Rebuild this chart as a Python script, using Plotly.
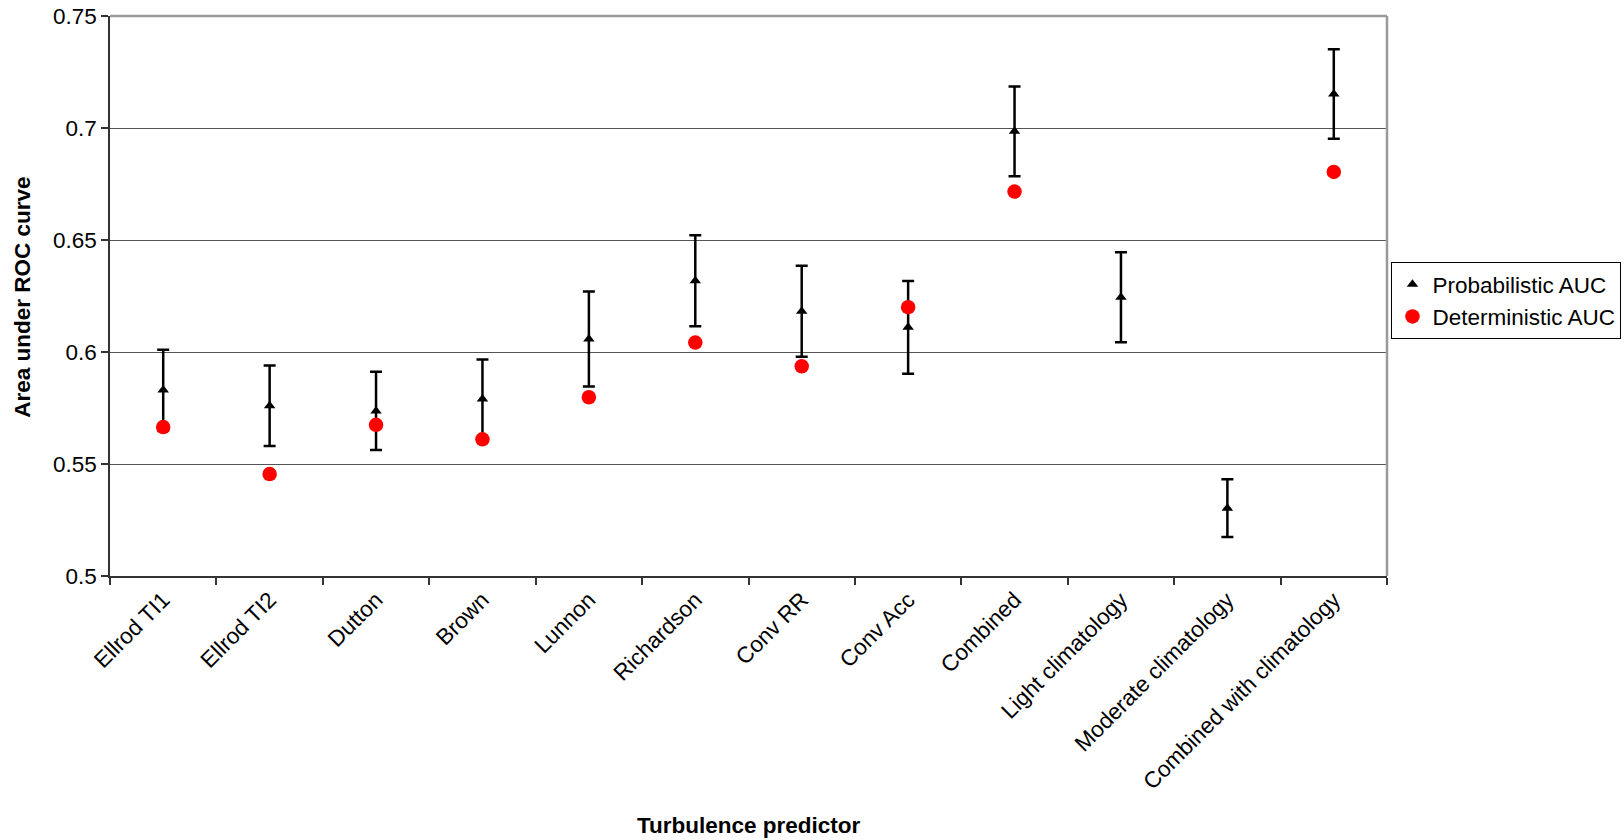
import plotly.graph_objects as go

categories = ["Ellrod TI1", "Ellrod TI2", "Dutton", "Brown", "Lunnon", "Richardson",
              "Conv RR", "Conv Acc", "Combined", "Light climatology",
              "Moderate climatology", "Combined with climatology"]
prob_auc = [0.583, 0.576, 0.5737, 0.579, 0.6058, 0.6318, 0.6182, 0.6110, 0.6985, 0.6244, 0.5303, 0.7152]
prob_err = [0.018, 0.018, 0.0175, 0.0177, 0.0212, 0.0203, 0.0203, 0.0207, 0.020, 0.0201, 0.0129, 0.020]
det_auc = [0.5665, 0.5455, 0.5675, 0.561, 0.5798, 0.6042, 0.5936, 0.6200, 0.6716, None, None, 0.6804]
y_ticks = [0.5, 0.55, 0.6, 0.65, 0.7, 0.75]
y_tick_text = ["0.5", "0.55", "0.6", "0.65", "0.7", "0.75"]

FONT = "Arial, Liberation Sans, sans-serif"
FS = 22.5

fig = go.Figure()
fig.add_trace(go.Scatter(
    x=categories, y=prob_auc, mode="markers", name="Probabilistic AUC",
    marker=dict(symbol="triangle-up", size=10, color="black"),
    error_y=dict(type="data", array=prob_err, visible=True, color="black",
                 thickness=2.5, width=6),
))
fig.add_trace(go.Scatter(
    x=categories, y=det_auc, mode="markers", name="Deterministic AUC",
    marker=dict(symbol="circle", size=14.5, color="#ff0000"),
))

fig.update_layout(
    width=1624, height=840,
    margin=dict(l=110, r=237, t=16, b=264, autoexpand=False),
    paper_bgcolor="white", plot_bgcolor="white",
    font=dict(family=FONT, size=FS, color="black"),
    showlegend=True,
    legend=dict(x=1.0035, y=0.5607, xanchor="left", yanchor="top",
                bordercolor="black", borderwidth=1, bgcolor="white",
                font=dict(family=FONT, size=FS, color="black"),
                itemsizing="trace", tracegroupgap=0),
    xaxis=dict(
        type="category", range=[-0.5, 11.5], tickson="boundaries",
        ticks="outside", ticklen=7, tickcolor="#333", tickwidth=1.5,
        showline=True, linecolor="#333", linewidth=1.5,
        showgrid=False, tickangle=-45, automargin=False,
        tickfont=dict(family=FONT, size=FS, color="black"),
        zeroline=False,
    ),
    yaxis=dict(
        range=[0.5, 0.75], tickvals=y_ticks, ticktext=y_tick_text,
        ticks="outside", ticklen=7, tickcolor="#333", tickwidth=1.5,
        showline=True, linecolor="#333", linewidth=1.5,
        showgrid=True, gridcolor="#555", gridwidth=1.3,
        automargin=False, zeroline=False,
        tickfont=dict(family=FONT, size=FS, color="black"),
    ),
    shapes=[
        dict(type="line", xref="paper", yref="paper", x0=0, x1=1, y0=1, y1=1,
             line=dict(color="#999", width=2.5)),
        dict(type="line", xref="paper", yref="paper", x0=1, x1=1, y0=0, y1=1,
             line=dict(color="#999", width=2.5)),
    ],
    annotations=[
        dict(text="<b>Turbulence predictor</b>", xref="paper", yref="paper",
             x=0.5, y=-0.446, xanchor="center", yanchor="middle", showarrow=False,
             font=dict(family=FONT, size=FS, color="black")),
        dict(text="<b>Area under ROC curve</b>", xref="paper", yref="paper",
             x=-0.0681, y=0.497, xanchor="center", yanchor="middle", showarrow=False,
             textangle=-90, font=dict(family=FONT, size=FS, color="black")),
    ],
)

fig.write_html("out.html")
